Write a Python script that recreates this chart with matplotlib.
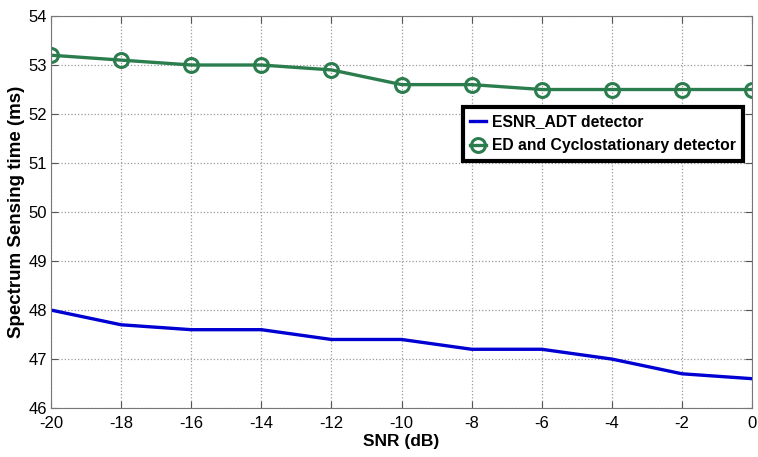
import matplotlib
matplotlib.use('Agg')
import matplotlib.pyplot as plt

plt.rcParams['font.family'] = ['Liberation Sans', 'DejaVu Sans']
plt.rcParams['axes.unicode_minus'] = False

# data
snr = [-20, -18, -16, -14, -12, -10, -8, -6, -4, -2, 0]
esnr_adt = [48.0, 47.7, 47.6, 47.6, 47.4, 47.4, 47.2, 47.2, 47.0, 46.7, 46.6]
ed_cyclo = [53.2, 53.1, 53.0, 53.0, 52.9, 52.6, 52.6, 52.5, 52.5, 52.5, 52.5]
xticks = list(range(-20, 1, 2))
yticks = list(range(46, 55))

fig = plt.figure(figsize=(7.58, 4.57), dpi=100)
ax = fig.add_axes([0.0673, 0.107, 0.925, 0.858])

ax.plot(snr, esnr_adt, color='#0000d2', lw=2.4, label='ESNR_ADT detector')
ax.plot(snr, ed_cyclo, color='#2b7d4e', lw=2.4, marker='o', ms=10,
        mfc='none', mew=2.2, label='ED and Cyclostationary detector')

ax.set_xlim(-20, 0)
ax.set_ylim(46, 54)
ax.set_xticks(xticks)
ax.set_yticks(yticks)
ax.tick_params(direction='in', top=True, right=True, labelsize=12, length=5, color='#555555')
ax.tick_params(axis='x', pad=6)
ax.tick_params(axis='y', pad=3)
for s in ax.spines.values():
    s.set_color('#777777')
ax.grid(True, linestyle=':', color='#999999', lw=0.9)

ax.set_xlabel('SNR (dB)', fontsize=12.5, fontweight='bold', labelpad=2)
ax.set_ylabel('Spectrum Sensing time (ms)', fontsize=13.5, fontweight='bold', labelpad=2)

leg = ax.legend(loc='upper left', bbox_to_anchor=(0.588, 0.768), fancybox=False,
                prop={'weight': 'bold', 'size': 11.3}, handlelength=1.0,
                handletextpad=0.4, borderpad=0.45, labelspacing=0.6, framealpha=1,
                borderaxespad=0)
leg.get_frame().set_edgecolor('black')
leg.get_frame().set_linewidth(3)

fig.savefig('out.png', dpi=100)
